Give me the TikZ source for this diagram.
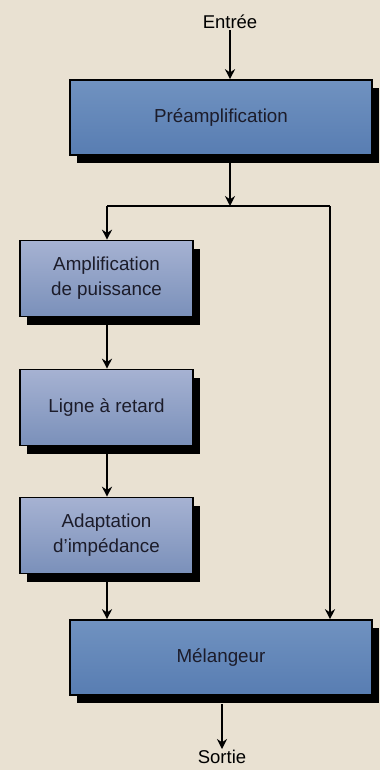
\documentclass[tikz,border=0pt]{standalone}
\usepackage{fontspec}
\setmainfont{Liberation Sans}
\usetikzlibrary{arrows.meta,shadows}
\definecolor{bg}{RGB}{233,225,210}
\definecolor{bigtop}{RGB}{112,146,192}
\definecolor{bigbot}{RGB}{88,125,178}
\definecolor{smtop}{RGB}{166,178,210}
\definecolor{smbot}{RGB}{122,144,186}
\definecolor{txt}{RGB}{28,28,42}
\tikzset{
  blk/.style={draw=black, line width=1.6pt, rectangle, inner sep=0pt, align=center,
    text=txt, font=\fontsize{18.8}{25}\selectfont,
    general shadow={fill=black, shadow xshift=6.5pt, shadow yshift=-8pt}},
  bigblk/.style={blk, top color=bigtop, bottom color=bigbot, minimum width=302pt, minimum height=75pt},
  smblk/.style={blk, top color=smtop, bottom color=smbot, minimum width=173pt, minimum height=76pt},
  lbl/.style={text=black, font=\fontsize{18.5}{20}\selectfont, inner sep=1pt},
  wire/.style={line width=1.6pt, black},
  arr/.style={wire, -{Stealth[length=10pt,width=10pt]}}
}
\begin{document}
\begin{tikzpicture}[x=1pt,y=-1pt]
\fill[bg] (0,0) rectangle (380,770);
\useasboundingbox (0,0) rectangle (380,770);

\node[lbl] (entree) at (230,22) {Entrée};
\node[bigblk] (pre) at (221,117.5) {Préamplification};
\node[smblk] (amp) at (106.5,278.5) {Amplification\\de puissance};
\node[smblk] (ligne) at (106.5,407.5) {Ligne à retard};
\node[smblk] (adapt) at (106.5,535.5) {Adaptation\\d’impédance};
\node[bigblk] (mel) at (221,657.5) {Mélangeur};
\node[lbl] (sortie) at (222,757) {Sortie};

\coordinate (j) at (230,206);
\coordinate (jl) at (107,206);
\coordinate (jr) at (330,206);

\draw[arr] (entree.south) -- (entree.south |- pre.north);
\draw[arr] (j |- pre.south) -- (j);
\draw[wire] (jl) -- (jr);
\draw[arr] (jl) -- (jl |- amp.north);
\draw[arr] (jr) -- (jr |- mel.north);
\draw[arr] ([yshift=-8pt]amp.south -| jl) -- (jl |- ligne.north);
\draw[arr] ([yshift=-8pt]ligne.south -| jl) -- (jl |- adapt.north);
\draw[arr] ([yshift=-8pt]adapt.south -| jl) -- (jl |- mel.north);
\draw[arr] ([yshift=-8pt]mel.south -| sortie) -- (sortie.north);
\end{tikzpicture}
\end{document}
